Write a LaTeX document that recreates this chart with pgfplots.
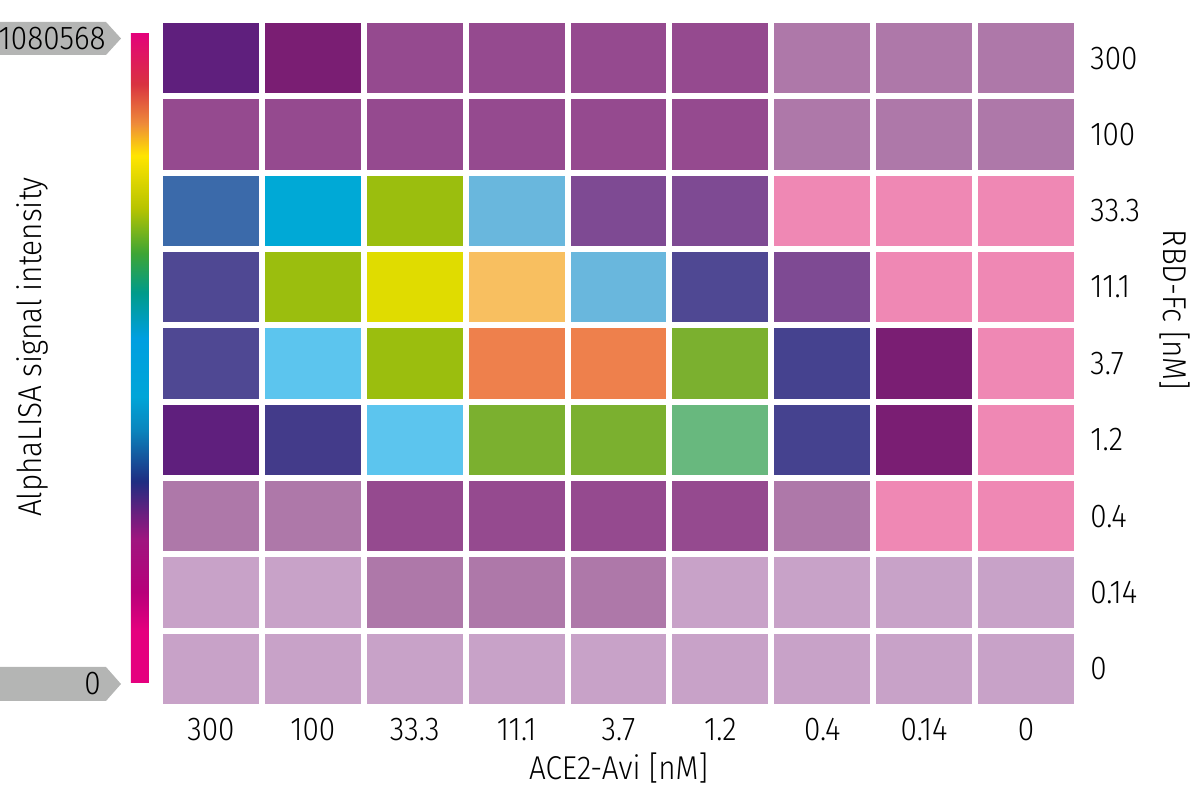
\documentclass[border=0pt]{standalone}
\usepackage{pgfplots}
\pgfplotsset{compat=1.18}
\usepackage{fontspec}
\setmainfont{Fira Sans}[UprightFont=* Light, FakeStretch=0.9]

\definecolor{cbgray}{HTML}{B4B5B4}
% cell colours
\definecolor{c0}{HTML}{C8A2C8}
\definecolor{c1}{HTML}{AE78A9}
\definecolor{c2}{HTML}{EF88B4}
\definecolor{c3}{HTML}{954A8F}
\definecolor{c4}{HTML}{7E4A93}
\definecolor{c5}{HTML}{7A1E73}
\definecolor{c6}{HTML}{5F1F7D}
\definecolor{c7}{HTML}{4F4893}
\definecolor{c8}{HTML}{45428F}
\definecolor{c9}{HTML}{3B6AAA}
\definecolor{c10}{HTML}{00A9D6}
\definecolor{c11}{HTML}{69B7DD}
\definecolor{c12}{HTML}{5CC5EE}
\definecolor{c13}{HTML}{68B87E}
\definecolor{c14}{HTML}{7BB02F}
\definecolor{c15}{HTML}{9BBE0E}
\definecolor{c16}{HTML}{E0DC00}
\definecolor{c17}{HTML}{F8BF60}
\definecolor{c18}{HTML}{EE804C}
\definecolor{c19}{HTML}{433B8A}

\begin{document}
\fontsize{16.5}{20}\selectfont
\begin{tikzpicture}
\path[use as bounding box] (0,0) rectangle (600pt,403.5pt);

\begin{axis}[
    at={(80pt,50pt)}, anchor=south west,
    scale only axis, width=458.5pt, height=343.5pt,
    xmin=-0.5, xmax=8.5, ymin=-0.5, ymax=8.5,
    axis line style={draw=none},
    major tick length=0pt,
    xtick={0,...,8},
    xticklabels={300,100,33.3,11.1,3.7,1.2,0.4,0.14,0},
    ytick={0,...,8},
    yticklabels={0,0.14,0.4,1.2,3.7,11.1,33.3,100,300},
    yticklabel pos=right,
    yticklabel style={anchor=west, inner xsep=0pt, xshift=6.5pt},
    xlabel={ACE2-Avi [nM]},
    xlabel style={at={(axis description cs:0.5,0)}, anchor=center, yshift=-30.5pt},
    ylabel={RBD-Fc [nM]},
    ylabel style={at={(axis description cs:1.107,0.578)}, anchor=center, rotate=180},
    colormap={alpha}{
        rgb255(0pt)=(229,0,126)
        rgb255(8pt)=(229,0,126)
        rgb255(14pt)=(183,0,122)
        rgb255(22pt)=(160,21,127)
        rgb255(26pt)=(106,31,127)
        rgb255(31pt)=(30,45,130)
        rgb255(39pt)=(10,134,190)
        rgb255(44pt)=(0,165,216)
        rgb255(53pt)=(0,159,224)
        rgb255(60pt)=(0,155,138)
        rgb255(66pt)=(61,165,53)
        rgb255(73pt)=(184,196,0)
        rgb255(81pt)=(255,229,0)
        rgb255(86pt)=(238,138,58)
        rgb255(92pt)=(217,51,64)
        rgb255(100pt)=(228,0,124)
    },
    point meta min=0, point meta max=1080568,
    colorbar left,
    colorbar style={
        at={(parent axis.south west)}, anchor=south east,
        xshift=3pt, yshift=12pt,
        scale only axis, width=9pt, height=325.5pt,
        ytick=\empty, xtick=\empty,
        axis line style={draw=none},
    },
]
\addplot[matrix plot*, mesh/cols=9, point meta=explicit symbolic,
    mesh/color input=explicit, draw=white, line width=3pt]
    table[meta=c, row sep=\\] {
x y c\\
0 0 color=c0\\ 1 0 color=c0\\ 2 0 color=c0\\ 3 0 color=c0\\ 4 0 color=c0\\ 5 0 color=c0\\ 6 0 color=c0\\ 7 0 color=c0\\ 8 0 color=c0\\
0 1 color=c0\\ 1 1 color=c0\\ 2 1 color=c1\\ 3 1 color=c1\\ 4 1 color=c1\\ 5 1 color=c0\\ 6 1 color=c0\\ 7 1 color=c0\\ 8 1 color=c0\\
0 2 color=c1\\ 1 2 color=c1\\ 2 2 color=c3\\ 3 2 color=c3\\ 4 2 color=c3\\ 5 2 color=c3\\ 6 2 color=c1\\ 7 2 color=c2\\ 8 2 color=c2\\
0 3 color=c6\\ 1 3 color=c19\\ 2 3 color=c12\\ 3 3 color=c14\\ 4 3 color=c14\\ 5 3 color=c13\\ 6 3 color=c8\\ 7 3 color=c5\\ 8 3 color=c2\\
0 4 color=c7\\ 1 4 color=c12\\ 2 4 color=c15\\ 3 4 color=c18\\ 4 4 color=c18\\ 5 4 color=c14\\ 6 4 color=c8\\ 7 4 color=c5\\ 8 4 color=c2\\
0 5 color=c7\\ 1 5 color=c15\\ 2 5 color=c16\\ 3 5 color=c17\\ 4 5 color=c11\\ 5 5 color=c7\\ 6 5 color=c4\\ 7 5 color=c2\\ 8 5 color=c2\\
0 6 color=c9\\ 1 6 color=c10\\ 2 6 color=c15\\ 3 6 color=c11\\ 4 6 color=c4\\ 5 6 color=c4\\ 6 6 color=c2\\ 7 6 color=c2\\ 8 6 color=c2\\
0 7 color=c3\\ 1 7 color=c3\\ 2 7 color=c3\\ 3 7 color=c3\\ 4 7 color=c3\\ 5 7 color=c3\\ 6 7 color=c1\\ 7 7 color=c1\\ 8 7 color=c1\\
0 8 color=c6\\ 1 8 color=c5\\ 2 8 color=c3\\ 3 8 color=c3\\ 4 8 color=c3\\ 5 8 color=c3\\ 6 8 color=c1\\ 7 8 color=c1\\ 8 8 color=c1\\
};
\end{axis}

% colour bar end labels (grey pointers)
\fill[cbgray] (0pt,376pt) -- (53pt,376pt) -- (60.5pt,384.25pt) -- (53pt,392.5pt) -- (0pt,392.5pt) -- cycle;
\node[anchor=east, inner sep=0pt] at (53pt,384.25pt) {1080568};
\fill[cbgray] (0pt,53pt) -- (53pt,53pt) -- (60.5pt,61.5pt) -- (53pt,70pt) -- (0pt,70pt) -- cycle;
\node[anchor=east, inner sep=0pt] at (50.5pt,61.5pt) {0};

\node[rotate=90] at (16pt,230pt) {AlphaLISA signal intensity};
\end{tikzpicture}
\end{document}
